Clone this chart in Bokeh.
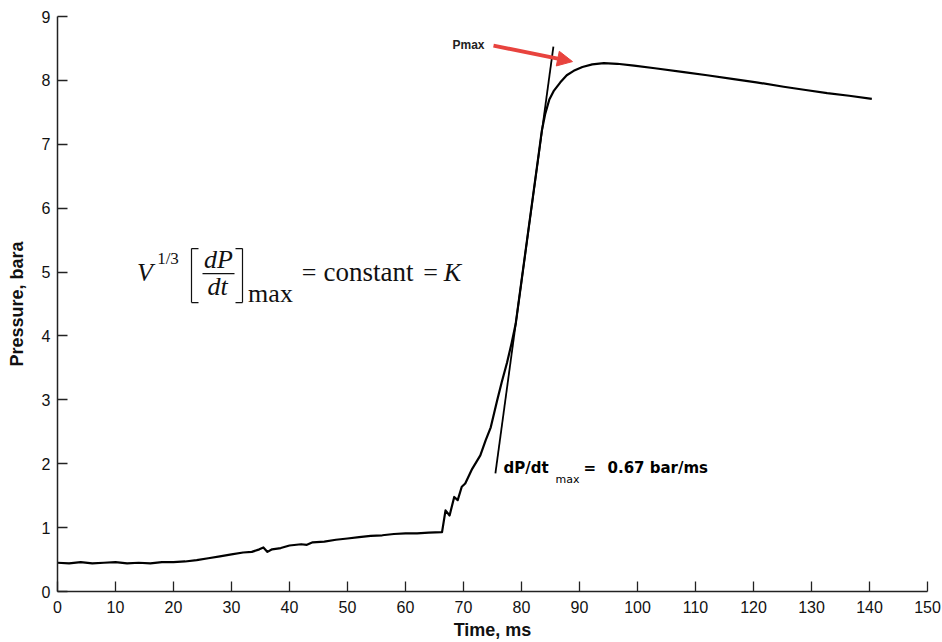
from bokeh.plotting import figure
from bokeh.models import Range1d, Label, Arrow, NormalHead, FixedTicker
from bokeh.embed import file_html
from bokeh.resources import INLINE

# ---- data ----
time_ms = [0, 2, 4, 6, 8, 10, 12, 14, 16, 18,
           20, 22, 24, 26, 28, 30, 32, 33.5, 34.8, 35.5,
           36.2, 37, 38.5, 40, 42, 43, 44, 46, 48, 50,
           52, 54, 56, 58, 60, 62, 64, 66.3, 66.9, 67.6,
           68.4, 69.0, 69.7, 70.3, 71.5, 72.9, 73.8, 74.7, 75.8, 76.6,
           77.5, 78.3, 79.0, 80, 81, 82, 83, 83.5, 84.1, 84.8,
           85.6, 86.7, 87.8, 89.0, 90.5, 92.2, 94.2, 96.5, 99.4, 103,
           108, 112, 116.6, 120.5, 125.2, 129, 132.7, 136.5, 140.4]
pressure_bara = [0.45, 0.44, 0.46, 0.44, 0.45, 0.46, 0.44, 0.45, 0.44, 0.46,
                 0.46, 0.47, 0.49, 0.52, 0.55, 0.58, 0.61, 0.62, 0.66, 0.69,
                 0.62, 0.66, 0.68, 0.72, 0.74, 0.73, 0.77, 0.78, 0.81, 0.83,
                 0.85, 0.87, 0.88, 0.90, 0.91, 0.91, 0.92, 0.93, 1.27, 1.19,
                 1.48, 1.43, 1.64, 1.69, 1.92, 2.13, 2.36, 2.57, 2.99, 3.28,
                 3.58, 3.89, 4.19, 4.86, 5.53, 6.20, 6.87, 7.21, 7.48, 7.70,
                 7.84, 7.97, 8.08, 8.15, 8.21, 8.25, 8.27, 8.26, 8.23, 8.19,
                 8.13, 8.08, 8.02, 7.97, 7.90, 7.85, 7.80, 7.76, 7.71]

tangent_t = [75.5, 85.5]
tangent_p = [1.85, 8.53]

x_ticks = [0, 10, 20, 30, 40, 50, 60, 70, 80, 90, 100, 110, 120, 130, 140, 150]
y_ticks = [0, 1, 2, 3, 4, 5, 6, 7, 8, 9]

pmax_text = "Pmax"
slope_text = "dP/dt"
slope_sub = "max"
slope_value = "0.67 bar/ms"

# ---- figure ----
p = figure(width=942, height=642, output_backend="svg", toolbar_location=None,
           x_range=Range1d(0, 150), y_range=Range1d(0, 9),
           min_border_left=57, min_border_right=15, min_border_top=16, min_border_bottom=51)
p.outline_line_color = None
p.xgrid.grid_line_color = None
p.ygrid.grid_line_color = None
p.background_fill_color = "white"
p.border_fill_color = "white"

p.xaxis.ticker = FixedTicker(ticks=x_ticks)
p.yaxis.ticker = FixedTicker(ticks=y_ticks)
for ax in (p.xaxis, p.yaxis):
    ax.major_tick_in = 10
    ax.major_tick_out = 0
    ax.minor_tick_line_color = None
    ax.axis_line_color = "#222222"
    ax.axis_line_width = 1.5
    ax.major_tick_line_color = "#222222"
    ax.major_tick_line_width = 1.3
    ax.major_label_text_font = "Liberation Sans"
    ax.major_label_text_font_size = "16px"
    ax.major_label_text_color = "#111111"
    ax.axis_label_text_font = "Liberation Sans"
    ax.axis_label_text_font_size = "18px"
    ax.axis_label_text_font_style = "bold"
    ax.axis_label_text_color = "#111111"
p.xaxis.axis_label = "Time, ms"
p.yaxis.axis_label = "Pressure, bara"
p.xaxis.major_label_standoff = 9
p.yaxis.major_label_standoff = 7
p.xaxis.axis_label_standoff = 4
p.yaxis.axis_label_standoff = 12

# ---- data marks ----
p.line(time_ms, pressure_bara, line_color="black", line_width=2.2, line_join="round")
p.line(tangent_t, tangent_p, line_color="black", line_width=1.8)

# helpers: reference pixel -> data coordinates (for annotation placement)
def tx(px):
    return (px - 57) / 5.8

def ty(py):
    return (591 - py) / 63.9

def lab(px, py, text, font, size, style="normal", color="#111111", align="left"):
    # baseline placement; Bokeh draws labels ~0.35em lower than the given point
    p.add_layout(Label(x=tx(px), y=ty(py - 0.35 * size), text=text, text_font=font,
                       text_font_size=f"{size}px", text_font_style=style,
                       text_color=color, text_baseline="alphabetic", text_align=align))

red = "#e8433e"
p.add_layout(Arrow(end=NormalHead(size=15, fill_color=red, line_color=red),
                   x_start=tx(493), y_start=ty(45), x_end=tx(572), y_end=ty(61),
                   line_color=red, line_width=4))
lab(452, 49, pmax_text, "Liberation Sans", 12, "bold", "#222222")

lab(503, 473, slope_text, "DejaVu Sans", 15, "bold", "black")
lab(555, 483, slope_sub, "DejaVu Sans", 11, "normal", "black")
lab(583, 473, "=", "DejaVu Sans", 15, "bold", "black")
lab(607, 473, slope_value, "DejaVu Sans", 15, "bold", "black")

# ---- formula  V^{1/3} [dP/dt]_max = constant = K ----
serif = "Liberation Serif"
lab(144.5, 281, "V", serif, 26, "italic", align="center")
lab(167.5, 264, "1/3", serif, 17, align="center")
lab(218, 268, "dP", serif, 26, "italic", align="center")
lab(217, 295, "dt", serif, 26, "italic", align="center")
lab(270, 302, "max", serif, 26, align="center")
lab(308.5, 281, "=", serif, 26, align="center")
lab(368, 281, "constant", serif, 27, align="center")
lab(430, 281, "=", serif, 26, align="center")
lab(452, 281, "K", serif, 26, "italic", align="center")

# brackets and fraction bar
p.segment(x0=[tx(191), tx(191), tx(191), tx(242), tx(235), tx(235), tx(202)],
          y0=[ty(248), ty(248), ty(302), ty(248), ty(248), ty(302), ty(273)],
          x1=[tx(191), tx(198), tx(198), tx(242), tx(242), tx(242), tx(234)],
          y1=[ty(302), ty(248), ty(302), ty(302), ty(248), ty(302), ty(273)],
          line_color="#111111", line_width=1.2)

open("out.html", "w").write(file_html(p, INLINE))
